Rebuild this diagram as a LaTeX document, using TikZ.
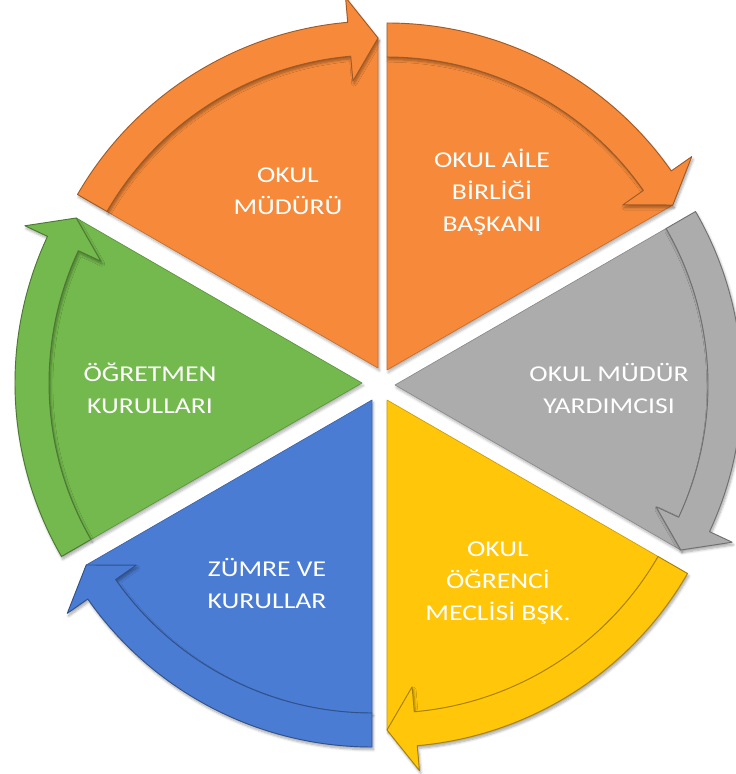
\documentclass[tikz,border=0pt]{standalone}
\usepackage{fontspec}
\setmainfont{Carlito}[FakeStretch=1.22]
\usetikzlibrary{shadows.blur}
\definecolor{turuncu}{RGB}{246,138,58}
\definecolor{gri}{RGB}{172,172,172}
\definecolor{sari}{RGB}{255,198,10}
\definecolor{mavi}{RGB}{74,124,212}
\definecolor{yesil}{RGB}{116,185,77}
\begin{document}
\begin{tikzpicture}[x=.75pt,y=.75pt,line join=round,font=\fontsize{17}{24}\selectfont,
  dilim/.style={fill=#1,draw=#1!80!black,line width=.5pt,blur shadow={shadow xshift=1pt,shadow yshift=-2pt,shadow blur steps=6,shadow opacity=30}},
  ok/.style={fill=#1,draw=#1!65!black,line width=.7pt,blur shadow={shadow xshift=1pt,shadow yshift=-2pt,shadow blur steps=6,shadow opacity=35}},
  yazi/.style={text=white,align=center}]
\def\R{347} \def\r{313} \def\m{330} \def\ho{372} \def\hi{288} \def\h{5}
\useasboundingbox (0,0) rectangle (735,774);
% dilimler ve oklar (saat yonunde)
\foreach \x/\y/\a/\col in {378/406/90/turuncu,387/404/30/turuncu,395/389/-30/gri,387/374/-90/sari,372/374/210/mavi,362/391/150/yesil}{
\begin{scope}[shift={(\x,\y)}]
\path[dilim=\col] (0,0)--(\a+60:\r) arc[start angle=\a+60,end angle=\a+\h,radius=\r]--(\a:\m)--cycle;
\path[ok=\col] (\a+60:\R) arc[start angle=\a+60,end angle=\a+\h,radius=\R]--(\a+\h:\ho)--(\a:\m)--(\a+\h:\hi)--(\a+\h:\r) arc[start angle=\a+\h,end angle=\a+60,radius=\r]--cycle;
\end{scope}}
% yazilar
\node[yazi] (mudur) at (288,583) {OKUL\\MÜDÜRÜ};
\node[yazi] (aile) at (492,582) {OKUL AİLE\\BİRLİĞİ\\BAŞKANI};
\node[yazi] (yardimci) at (609,386) {OKUL MÜDÜR\\YARDIMCISI};
\node[yazi] (meclis) at (498,191) {OKUL\\ÖĞRENCİ\\MECLİSİ BŞK.};
\node[yazi] (zumre) at (267,191) {ZÜMRE VE\\KURULLAR};
\node[yazi] (ogretmen) at (150,386) {ÖĞRETMEN\\KURULLARI};
\end{tikzpicture}
\end{document}
